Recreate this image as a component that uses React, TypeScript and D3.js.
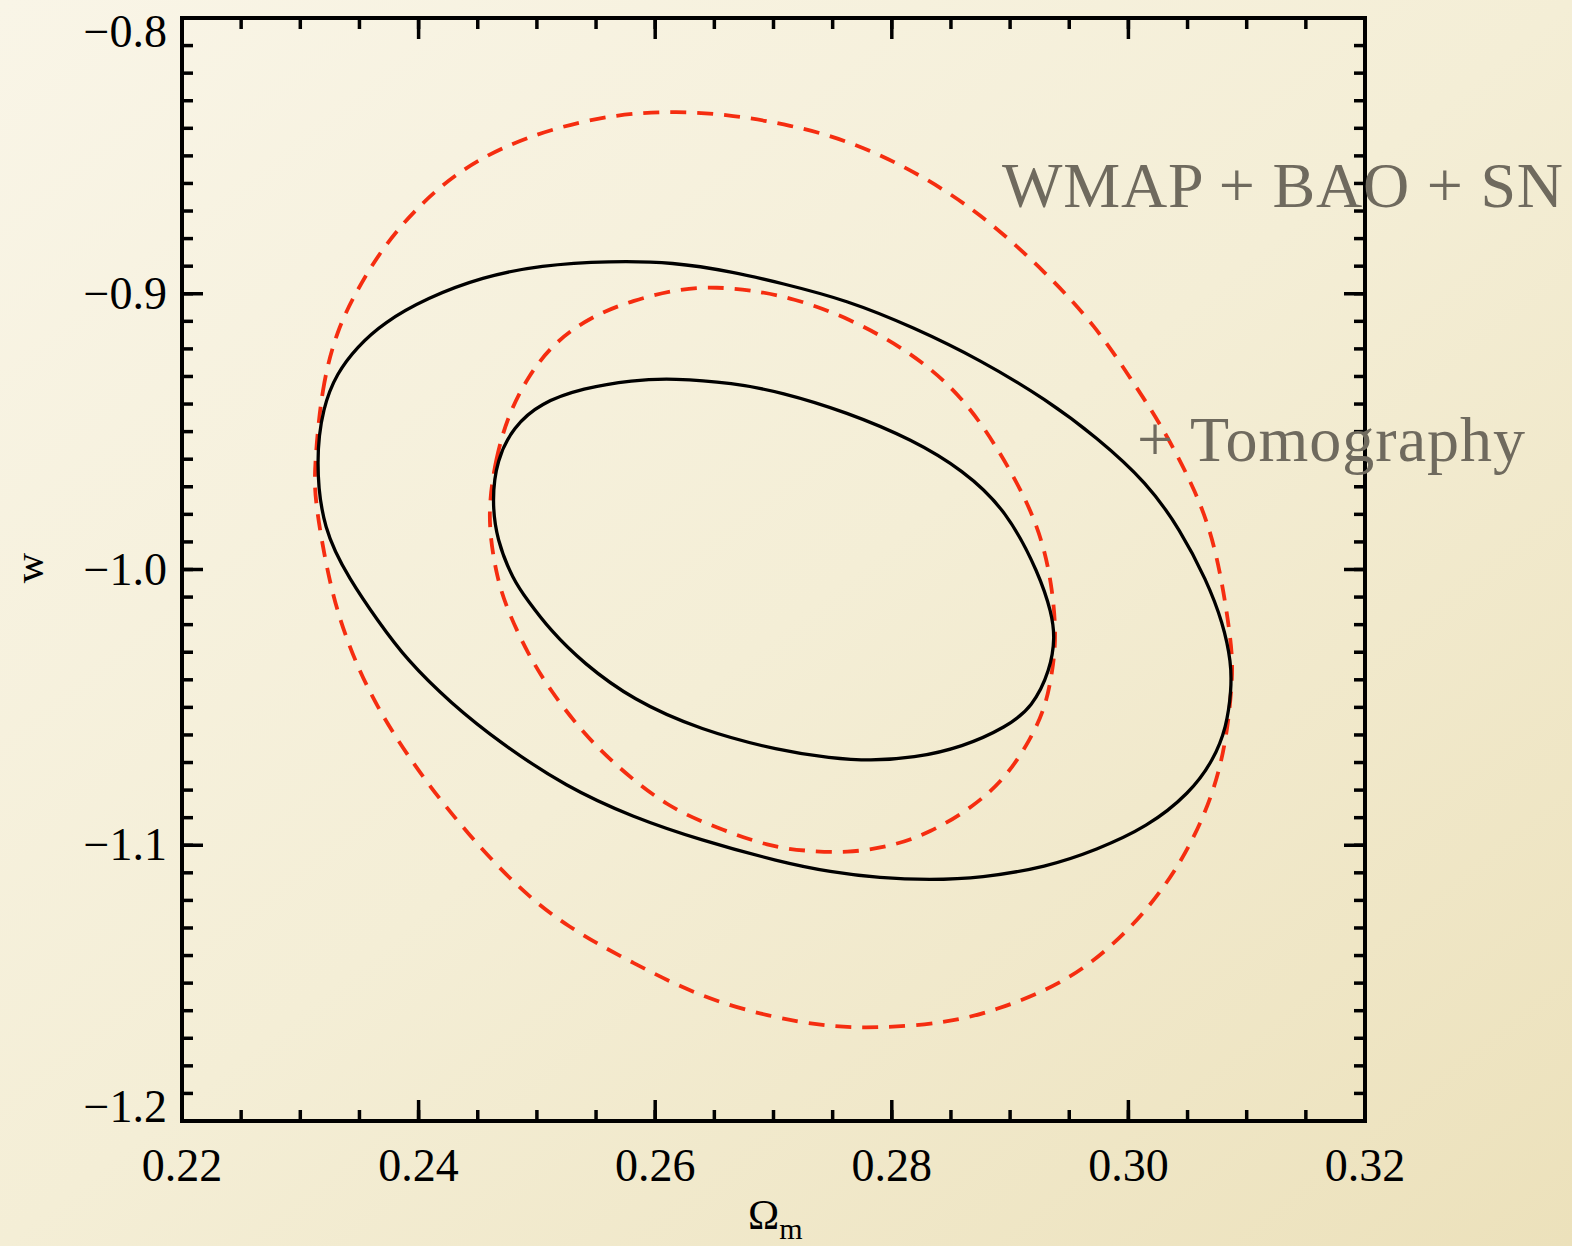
import React from "react";
import * as d3 from "d3";

const xTickValues = [0.22, 0.24, 0.26, 0.28, 0.3, 0.32];
const xTickLabels = ["0.22", "0.24", "0.26", "0.28", "0.30", "0.32"];
const yTickValues = [-0.8, -0.9, -1.0, -1.1, -1.2];
const yTickLabels = ["\u22120.8", "\u22120.9", "\u22121.0", "\u22121.1", "\u22121.2"];
const xMinorStep = 0.005;
const yMinorStep = 0.01;

// [Omega_m, w] points
const blackOuter: [number, number][] = [
  [0.2313, -0.9603], [0.2319, -0.9411], [0.2331, -0.9287], [0.2348, -0.9193], [0.237, -0.9106],
  [0.2407, -0.9015], [0.2454, -0.8939], [0.2503, -0.8896], [0.2562, -0.8881], [0.2615, -0.8885],
  [0.2666, -0.8921], [0.2706, -0.8961], [0.2762, -0.9023], [0.2818, -0.9121], [0.2875, -0.924],
  [0.2931, -0.9385], [0.2973, -0.952], [0.3016, -0.9686], [0.3044, -0.9857], [0.3066, -1.0038],
  [0.308, -1.0194], [0.3087, -1.0339], [0.3087, -1.0437], [0.3083, -1.0571], [0.3072, -1.0691],
  [0.3052, -1.0811], [0.3016, -1.0934], [0.2973, -1.1017], [0.2931, -1.1079], [0.2875, -1.1119],
  [0.2832, -1.1126], [0.279, -1.1119], [0.2748, -1.1097], [0.2706, -1.1061], [0.2638, -1.0981],
  [0.2581, -1.0898], [0.2525, -1.0789], [0.2469, -1.0629], [0.2427, -1.0484], [0.239, -1.0328],
  [0.2365, -1.0183], [0.2342, -1.0038], [0.2319, -0.9857],
];

const blackInner: [number, number][] = [
  [0.2462, -0.9748], [0.2466, -0.9603], [0.248, -0.9483], [0.2503, -0.9396], [0.2539, -0.9342],
  [0.2581, -0.9313], [0.2615, -0.9306], [0.2666, -0.9324], [0.2706, -0.9356], [0.2762, -0.9429],
  [0.2818, -0.953], [0.286, -0.9639], [0.2897, -0.9784], [0.2925, -1.002], [0.2935, -1.0158],
  [0.2938, -1.0245], [0.2934, -1.0364], [0.2919, -1.0499], [0.2897, -1.0571], [0.286, -1.0644],
  [0.2818, -1.0684], [0.2782, -1.0694], [0.2748, -1.0684], [0.2706, -1.0658], [0.2638, -1.0582],
  [0.2581, -1.0473], [0.2539, -1.0339], [0.2511, -1.0219], [0.2492, -1.0111], [0.248, -1.0038],
  [0.2466, -0.9893],
];

const redOuter: [number, number][] = [
  [0.2312, -0.9628], [0.2318, -0.9338], [0.2331, -0.9131], [0.2348, -0.8986], [0.237, -0.883],
  [0.2399, -0.8685], [0.2432, -0.8562], [0.2469, -0.8471], [0.2514, -0.8399], [0.2568, -0.8348],
  [0.2618, -0.8337], [0.2666, -0.8352], [0.2714, -0.8388], [0.2762, -0.8442], [0.2818, -0.8551],
  [0.2875, -0.8707], [0.2931, -0.8925], [0.2973, -0.9121], [0.3001, -0.9302], [0.3029, -0.9483],
  [0.3058, -0.9723], [0.3075, -0.993], [0.3088, -1.0281], [0.3088, -1.0401], [0.3083, -1.0618],
  [0.3072, -1.0811], [0.3052, -1.1006], [0.3029, -1.1161], [0.3001, -1.1306], [0.2965, -1.1442],
  [0.2931, -1.1526], [0.2889, -1.1597], [0.2847, -1.1645], [0.279, -1.1663], [0.2748, -1.1659],
  [0.2697, -1.1623], [0.2638, -1.155], [0.2581, -1.1427], [0.2525, -1.1296], [0.2483, -1.1151],
  [0.2441, -1.0956], [0.2407, -1.0774], [0.2378, -1.0593], [0.2356, -1.0426], [0.2339, -1.0255],
  [0.2325, -1.0063], [0.2312, -0.9748],
];

const redInner: [number, number][] = [
  [0.246, -0.9748], [0.2465, -0.9603], [0.2475, -0.9447], [0.2492, -0.9302], [0.2514, -0.9179],
  [0.2545, -0.9084], [0.2581, -0.9023], [0.2624, -0.8979], [0.2652, -0.8976], [0.268, -0.8986],
  [0.2716, -0.9015], [0.2762, -0.9084], [0.2818, -0.9215], [0.286, -0.9374], [0.2889, -0.9556],
  [0.2914, -0.9748], [0.2928, -0.9904], [0.2936, -1.0074], [0.2939, -1.0245], [0.2936, -1.0364],
  [0.293, -1.0499], [0.2917, -1.0618], [0.2897, -1.0752], [0.2869, -1.0861], [0.2832, -1.0956],
  [0.2798, -1.1006], [0.2762, -1.1028], [0.2728, -1.1021], [0.2697, -1.1006], [0.2652, -1.0937],
  [0.261, -1.0861], [0.2568, -1.0716], [0.2539, -1.0593], [0.2511, -1.0437], [0.2492, -1.0303],
  [0.2475, -1.0147], [0.2466, -1.0027], [0.246, -0.9868],
];

const W = 1572;
const H = 1246;
const L = 182, R = 1365, T = 18, B = 1121;

export default function App() {
  const x = d3.scaleLinear().domain([0.22, 0.32]).range([L, R]);
  const y = d3.scaleLinear().domain([-0.8, -1.2]).range([T, B]);
  const line = d3
    .line<[number, number]>()
    .x((d) => x(d[0]))
    .y((d) => y(d[1]))
    .curve(d3.curveBasisClosed);

  const xMinor = d3.range(0.22, 0.32 + 1e-9, xMinorStep);
  const yMinor = d3.range(-1.2, -0.8 + 1e-9, yMinorStep);
  const serif = "'Liberation Serif', 'Times New Roman', serif";
  const tickColor = "#000";
  const major = 21, minor = 11;

  return (
    <svg
      width={W}
      height={H}
      style={{ position: "absolute", left: 0, top: 0, display: "block" }}
      xmlns="http://www.w3.org/2000/svg"
    >
      <defs>
        <linearGradient id="bg" x1="0" y1="0" x2="1" y2="1">
          <stop offset="0" stopColor="#f9f5e7" />
          <stop offset="0.5" stopColor="#f4eed6" />
          <stop offset="1" stopColor="#ece1bb" />
        </linearGradient>
      </defs>
      <rect x={0} y={0} width={W} height={H} fill="url(#bg)" />

      {/* contours */}
      <path d={line(redOuter) || ""} fill="none" stroke="#f52d10" strokeWidth={3.8} strokeDasharray="16 11" />
      <path d={line(redInner) || ""} fill="none" stroke="#f52d10" strokeWidth={3.8} strokeDasharray="16 11" />
      <path d={line(blackOuter) || ""} fill="none" stroke="#000" strokeWidth={3.3} />
      <path d={line(blackInner) || ""} fill="none" stroke="#000" strokeWidth={3.3} />

      {/* minor ticks */}
      {xMinor.map((v, i) => (
        <g key={"xm" + i}>
          <line x1={x(v)} x2={x(v)} y1={B} y2={B - minor} stroke={tickColor} strokeWidth={3.5} />
          <line x1={x(v)} x2={x(v)} y1={T} y2={T + minor} stroke={tickColor} strokeWidth={3.5} />
        </g>
      ))}
      {yMinor.map((v, i) => (
        <g key={"ym" + i}>
          <line x1={L} x2={L + minor} y1={y(v)} y2={y(v)} stroke={tickColor} strokeWidth={3.5} />
          <line x1={R} x2={R - minor} y1={y(v)} y2={y(v)} stroke={tickColor} strokeWidth={3.5} />
        </g>
      ))}
      {/* major ticks */}
      {xTickValues.map((v, i) => (
        <g key={"xM" + i}>
          <line x1={x(v)} x2={x(v)} y1={B} y2={B - major} stroke={tickColor} strokeWidth={3.5} />
          <line x1={x(v)} x2={x(v)} y1={T} y2={T + major} stroke={tickColor} strokeWidth={3.5} />
          <text x={x(v)} y={1181} textAnchor="middle" fontFamily={serif} fontSize={46} fill="#000">
            {xTickLabels[i]}
          </text>
        </g>
      ))}
      {yTickValues.map((v, i) => {
        const cy = Math.min(Math.max(y(v), T + 14), B - 14);
        return (
          <g key={"yM" + i}>
            <line x1={L} x2={L + major} y1={y(v)} y2={y(v)} stroke={tickColor} strokeWidth={3.5} />
            <line x1={R} x2={R - major} y1={y(v)} y2={y(v)} stroke={tickColor} strokeWidth={3.5} />
            <text x={167} y={cy + 15} textAnchor="end" fontFamily={serif} fontSize={46} fill="#000">
              {yTickLabels[i]}
            </text>
          </g>
        );
      })}

      {/* frame */}
      <rect x={L} y={T} width={R - L} height={B - T} fill="none" stroke="#000" strokeWidth={4} />

      {/* axis labels */}
      <text x={748} y={1229} fontFamily={serif} fontSize={42} fill="#000">
        {"\u03A9"}
        <tspan fontSize={30} dy={10}>m</tspan>
      </text>
      <text
        transform="translate(43,568) rotate(-90)"
        textAnchor="middle"
        fontFamily={serif}
        fontSize={42}
        fill="#000"
      >
        w
      </text>

      {/* annotations */}
      <text x={1002} y={207} fontFamily={serif} fontSize={64} letterSpacing={0.8} fill="#6f6a5e">
        WMAP + BAO + SN
      </text>
      <text x={1137} y={461} fontFamily={serif} fontSize={64} letterSpacing={1} fill="#6f6a5e">
        + Tomography
      </text>
    </svg>
  );
}
